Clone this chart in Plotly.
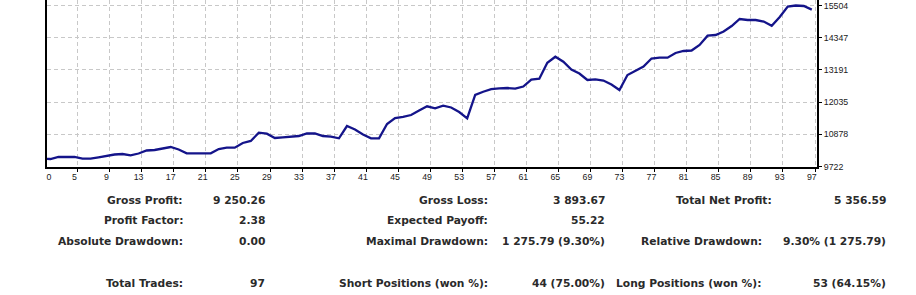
import plotly.graph_objects as go

# ---- data ----
trades = list(range(0, 98))
balance = [
    10000, 9991, 9991, 10063, 10063, 10063, 10002, 10002, 10052, 10099,
    10153, 10171, 10124, 10189, 10297, 10315, 10361, 10422, 10332, 10196,
    10196, 10196, 10196, 10350, 10397, 10397, 10566, 10638, 10936, 10900,
    10745, 10771, 10792, 10817, 10907, 10914, 10817, 10792, 10735, 11176,
    11051, 10871, 10735, 10735, 11248, 11464, 11500, 11571, 11733, 11884,
    11812, 11905, 11841, 11679, 11453, 12290, 12408, 12498, 12530, 12541,
    12516, 12595, 12846, 12875, 13449, 13665, 13485, 13205, 13062, 12828,
    12853, 12810, 12667, 12469, 13008, 13169, 13313, 13600, 13629, 13629,
    13798, 13870, 13888, 14085, 14419, 14444, 14570, 14767, 15019, 14983,
    14983, 14929, 14778, 15090, 15468, 15504, 15486, 15356.59,
]
x_tick_trades = [0, 5, 9, 13, 17, 21, 25, 29, 33, 37, 41, 45, 49, 53, 57, 61,
                 65, 69, 73, 77, 81, 85, 89, 93, 97]
x_tick_labels = [str(t) for t in x_tick_trades]
y_tick_values = [9722, 10878, 12035, 13191, 14347, 15504]
y_tick_labels = ["9722", "10878", "12035", "13191", "14347", "15504"]

stats_rows = [
    ["Gross Profit:", "9 250.26", "Gross Loss:", "3 893.67", "Total Net Profit:", "5 356.59"],
    ["Profit Factor:", "2.38", "Expected Payoff:", "55.22", "", ""],
    ["Absolute Drawdown:", "0.00", "Maximal Drawdown:", "1 275.79 (9.30%)",
     "Relative Drawdown:", "9.30% (1 275.79)"],
    ["Total Trades:", "97", "Short Positions (won %):", "44 (75.00%)",
     "Long Positions (won %):", "53 (64.15%)"],
]

# ---- layout geometry (pixels) ----
W, H = 916, 295
L, R, T, B = 47, 817, 0, 167
x_range = [1.57, 97.65]
y_range = [9704, 15701.5]

label_pos = [max(t, x_range[0] + 0.25) for t in x_tick_trades]
grid_pos = [t + 0.4 for t in x_tick_trades[1:]]

fig = go.Figure()
fig.add_trace(go.Scatter(
    x=trades, y=balance, mode="lines",
    line=dict(color="#14148a", width=2.3),
    hoverinfo="skip", showlegend=False,
))

tick_font = dict(family="Liberation Sans, Arial, sans-serif", size=8.8, color="#1a1a1a")

fig.update_layout(
    width=W, height=H,
    margin=dict(l=L, r=W - R, t=T, b=H - B, pad=0),
    paper_bgcolor="white", plot_bgcolor="white",
    xaxis=dict(
        range=x_range, tickmode="array", tickvals=label_pos, ticktext=x_tick_labels,
        ticks="", showgrid=False, zeroline=False,
        showline=True, linecolor="black", linewidth=2,
        tickfont=tick_font,
        minor=dict(tickmode="array", tickvals=grid_pos, ticks="outside", ticklen=3,
                   tickcolor="black", tickwidth=1, showgrid=True,
                   gridcolor="#c8c8c8", gridwidth=1, griddash="4px,3px"),
    ),
    yaxis=dict(
        range=y_range, side="right", tickmode="array", tickvals=y_tick_values,
        ticktext=y_tick_labels, ticks="outside", ticklen=3, tickcolor="black",
        showgrid=True, gridcolor="#c8c8c8", gridwidth=1, griddash="4px,3px",
        zeroline=False, showline=True, linecolor="black", linewidth=2, mirror=True,
        tickfont=tick_font,
    ),
)

# ---- statistics table ----
row_y = [200, 220.7, 241.5, 283]
col_right = [185.3, 267, 490, 607, None, 888]
col3_right = [774, 774, 764, 763]

def px_to_paper_x(px):
    return (px - L) / (R - L)

def px_to_paper_y(py):
    return (B - py) / (B - T)

for r, row in enumerate(stats_rows):
    for c, txt in enumerate(row):
        if not txt:
            continue
        xr = col3_right[r] if c == 4 else col_right[c]
        fig.add_annotation(
            x=px_to_paper_x(xr), y=px_to_paper_y(row_y[r]),
            xref="paper", yref="paper", xanchor="right", yanchor="middle",
            text=txt, showarrow=False,
            font=dict(family="DejaVu Sans, Verdana, sans-serif", size=10.7,
                      color="#2a2a2a", weight="bold"),
        )

fig.write_html("out.html")
